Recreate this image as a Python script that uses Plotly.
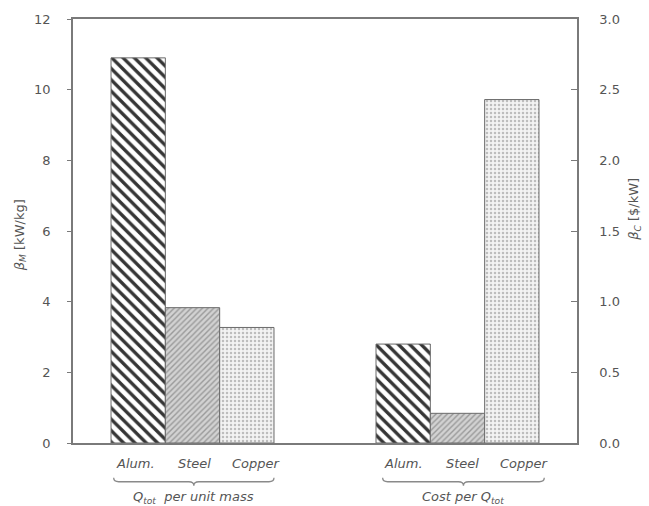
import plotly.graph_objects as go

groups = ["Q per unit mass", "Cost per Q"]
materials = ["Alum.", "Steel", "Copper"]
alum = [10.9, 0.70]
steel = [3.83, 0.21]
copper = [3.27, 2.43]
left_ticks = [0, 2, 4, 6, 8, 10, 12]
right_ticks = [0.0, 0.5, 1.0, 1.5, 2.0, 2.5, 3.0]
group_titles = ["<i>Q<sub>tot</sub>  per unit mass</i>", "<i>Cost per Q<sub>tot</sub></i>"]

values = {"Alum.": alum, "Steel": steel, "Copper": copper}
styles = {
    "Alum.": dict(shape="\\", fgcolor="#353535", bgcolor="#ffffff", size=8, solidity=0.42, fgopacity=1),
    "Steel": dict(shape="/", fgcolor="#9a9a9a", bgcolor="#d2d2d2", size=4, solidity=0.35, fgopacity=1),
    "Copper": dict(shape=".", fgcolor="#bdbdbd", bgcolor="#f3f3f3", size=4, solidity=0.3, fgopacity=1),
}

W = 0.205
XR = [-0.451, 1.451]
FONT = "DejaVu Sans"
GRAY = "#555555"
LINE = "#7a7a7a"

fig = go.Figure()
for gi, (g, yax) in enumerate(zip(groups, ["y", "y2"])):
    for mi, m in enumerate(materials):
        fig.add_trace(go.Bar(
            x=[g], y=[values[m][gi]], yaxis=yax, name=m, showlegend=False,
            width=W, offset=(mi - 1.5) * W, opacity=1,
            marker=dict(color=styles[m]["bgcolor"], pattern=styles[m], opacity=1,
                        line=dict(color="#6a6a6a", width=1)),
        ))

fig.update_layout(
    width=649, height=506,
    margin=dict(l=73, r=72, t=16, b=63),
    paper_bgcolor="white", plot_bgcolor="white",
    font=dict(family=FONT, size=13, color=GRAY),
    barmode="overlay",
    xaxis=dict(type="category", range=XR, showticklabels=False, ticks="",
               showline=True, mirror=True, linecolor=LINE, linewidth=1.5,
               showgrid=False, zeroline=False),
    yaxis=dict(range=[0, 12], tickvals=left_ticks, ticks="outside", ticklen=4,
               tickcolor=LINE, showline=True, linecolor=LINE, linewidth=1.5,
               showgrid=False, zeroline=False, ticklabelstandoff=14,
               tickfont=dict(size=13, color=GRAY)),
    yaxis2=dict(range=[0, 3], tickvals=right_ticks, tickformat=".1f", overlaying="y",
                side="right", ticks="inside", ticklen=6, tickcolor=LINE,
                showline=True, linecolor=LINE, linewidth=1.5, showgrid=False,
                zeroline=False, ticklabelstandoff=18,
                tickfont=dict(size=13, color=GRAY)),
)

def xp(v):
    return (v - XR[0]) / (XR[1] - XR[0])

ph = 506 - 16 - 63
def yp(px_below):
    return -px_below / ph

shifts = [-3, 2, 10]
for gi, g in enumerate(groups):
    for mi, m in enumerate(materials):
        cx = gi + (mi - 1) * W
        fig.add_annotation(x=xp(cx), y=yp(21), xref="paper", yref="paper",
                           xanchor="center", yanchor="middle",
                           text="<i>%s</i>" % m, showarrow=False,
                           xshift=shifts[mi] + gi * 3,
                           font=dict(size=13, color=GRAY, family=FONT))
    x0 = xp(gi - 1.5 * W + 0.01 + gi * 0.015)
    x1 = xp(gi + 1.5 * W + gi * 0.02)
    xm = (x0 + x1) / 2
    yl = yp(39)
    ye = yp(35)
    yt = yp(43)
    d = 0.01
    path = (f"M {x0},{ye} Q {x0},{yl} {x0+d},{yl} L {xm-d},{yl} Q {xm},{yl} {xm},{yt} "
            f"Q {xm},{yl} {xm+d},{yl} L {x1-d},{yl} Q {x1},{yl} {x1},{ye}")
    fig.add_shape(type="path", path=path, xref="paper", yref="paper",
                  line=dict(color="#8a8a8a", width=1.3))
    fig.add_annotation(x=xm, y=yp(55), xref="paper", yref="paper", text=group_titles[gi],
                       xanchor="center", yanchor="middle",
                       showarrow=False, font=dict(size=13, color=GRAY, family=FONT))

fig.add_annotation(x=0, y=0.49, xref="paper", yref="paper", text="<i>β<sub>M</sub></i> [kW/kg]",
                   xanchor="center", yanchor="middle", xshift=-53,
                   showarrow=False, textangle=-90, font=dict(size=13, color=GRAY, family=FONT))
fig.add_annotation(x=1, y=0.55, xref="paper", yref="paper", text="<i>β<sub>C</sub></i> [$/kW]",
                   xanchor="center", yanchor="middle", xshift=58,
                   showarrow=False, textangle=-90, font=dict(size=13, color=GRAY, family=FONT))

fig.write_html("out.html")
